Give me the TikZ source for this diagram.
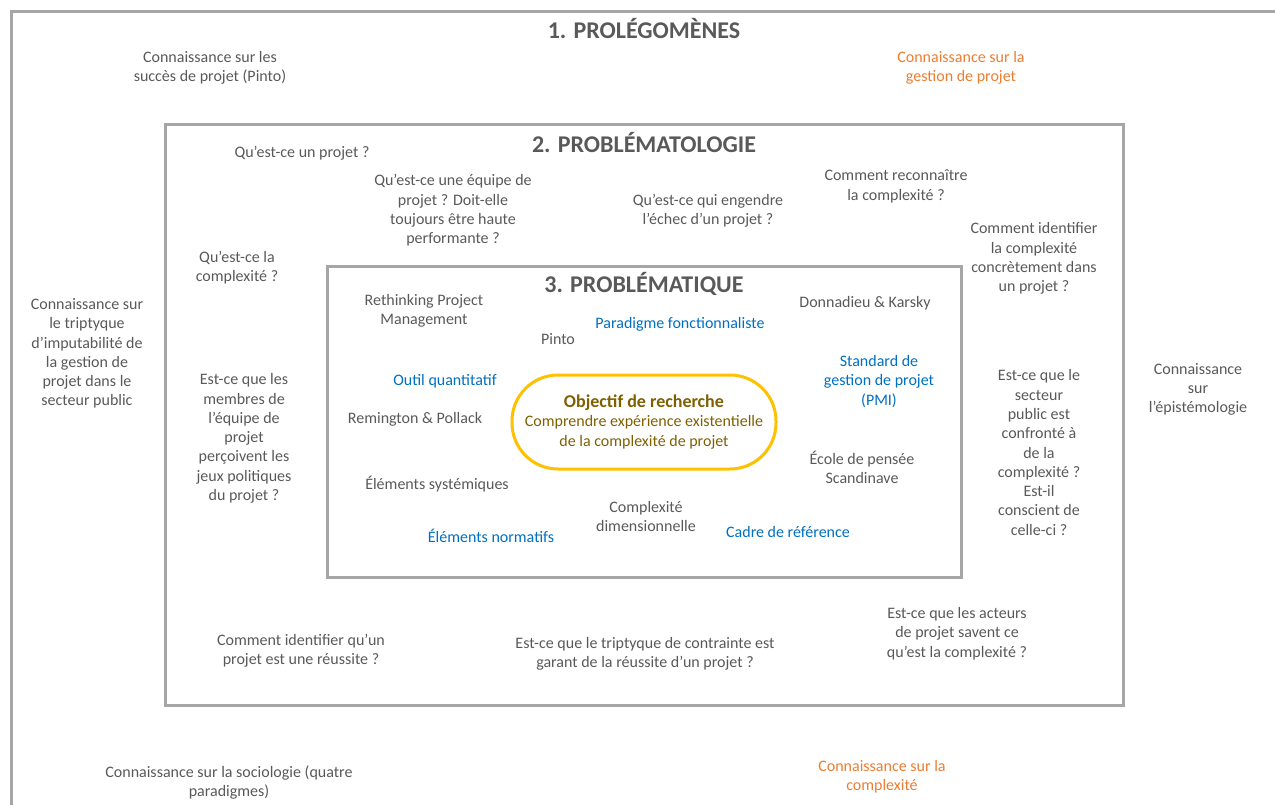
\documentclass[tikz,border=0pt]{standalone}
\usepackage{fontspec}
\setmainfont{Carlito}
\definecolor{txt}{HTML}{595959}
\definecolor{frame}{HTML}{A6A6A6}
\definecolor{bluetxt}{HTML}{0070C0}
\definecolor{orangetxt}{HTML}{ED7D31}
\definecolor{goldline}{HTML}{FFC000}
\definecolor{goldtxt}{HTML}{7F6000}
\tikzset{
  lbl/.style={align=center, text=txt, font=\fontsize{16}{19.3}\selectfont, inner sep=0pt, yshift=-1.5pt},
  blue/.style={lbl, text=bluetxt},
  orange/.style={lbl, text=orangetxt},
  ttl/.style={align=center, text=txt, font=\fontsize{24}{27}\selectfont\bfseries, inner sep=0pt},
  frm/.style={draw=frame, line width=3pt},
}
\begin{document}
\begin{tikzpicture}[x=1pt, y=-1pt]
\useasboundingbox (0,0) rectangle (1275,804);
\clip (0,0) rectangle (1275,804);
% nested frames
\draw[frm] (11,11) rectangle (1300,830);
\draw[frm] (165,124) rectangle (1123,705);
\draw[frm] (327,266) rectangle (961,577);

% level 1
\node[ttl] (t1) at (644,28) {1. PROLÉGOMÈNES};
\node[lbl] (k1) at (210,66) {Connaissance sur les\\succès de projet (Pinto)};
\node[orange] (k2) at (961,66) {Connaissance sur la\\gestion de projet};
\node[lbl] (k3) at (87,352) {Connaissance sur\\le triptyque\\d’imputabilité de\\la gestion de\\projet dans le\\secteur public};
\node[lbl] (k4) at (1198,388) {Connaissance\\sur\\l’épistémologie};
\node[lbl] (k5) at (229,781) {Connaissance sur la sociologie (quatre\\paradigmes)};
\node[orange] (k6) at (882,775) {Connaissance sur la\\complexité};

% level 2
\node[ttl] (t2) at (644,142) {2. PROBLÉMATOLOGIE};
\node[lbl] (q1) at (302,152) {Qu’est-ce un projet ?};
\node[lbl] (q2) at (453,209) {Qu’est-ce une équipe de\\projet ? Doit-elle\\toujours être haute\\performante ?};
\node[lbl] (q3) at (708,209) {Qu’est-ce qui engendre\\l’échec d’un projet ?};
\node[lbl] (q4) at (896,185) {Comment reconnaître\\la complexité ?};
\node[lbl] (q5) at (1034,257) {Comment identifier\\la complexité\\concrètement dans\\un projet ?};
\node[lbl] (q6) at (237,266) {Qu’est-ce la\\complexité ?};
\node[lbl] (q7) at (244,437) {Est-ce que les\\membres de\\l’équipe de\\projet\\perçoivent les\\jeux politiques\\du projet ?};
\node[lbl] (q8) at (1039,451) {Est-ce que le\\secteur\\public est\\confronté à\\de la\\complexité ?\\Est-il\\conscient de\\celle-ci ?};
\node[lbl] (q9) at (301,649) {Comment identifier qu’un\\projet est une réussite ?};
\node[lbl] (q10) at (645,652) {Est-ce que le triptyque de contrainte est\\garant de la réussite d’un projet ?};
\node[lbl] (q11) at (957,632) {Est-ce que les acteurs\\de projet savent ce\\qu’est la complexité ?};

% level 3
\node[ttl] (t3) at (644,284) {3. PROBLÉMATIQUE};
\node[lbl] (p1) at (424,309) {Rethinking Project\\Management};
\node[lbl] (p2) at (558,338) {Pinto};
\node[blue] (p3) at (680,323) {Paradigme fonctionnaliste};
\node[lbl] (p4) at (865,302) {Donnadieu \& Karsky};
\node[blue] (p5) at (879,380) {Standard de\\gestion de projet\\(PMI)};
\node[blue] (p6) at (445,380) {Outil quantitatif};
\node[lbl] (p7) at (415,418) {Remington \& Pollack};
\node[lbl] (p8) at (862,466) {École de pensée\\Scandinave};
\node[lbl] (p9) at (437,483) {Éléments systémiques};
\node[lbl] (p10) at (646,515) {Complexité\\dimensionnelle};
\node[blue] (p11) at (491,534) {Éléments normatifs};
\node[blue] (p12) at (788,530) {Cadre de référence};

% research objective
\node[draw=goldline, line width=3pt, rounded corners=46pt, minimum width=264pt, minimum height=94pt,
      align=center, text=goldtxt, font=\fontsize{16}{19.5}\selectfont, inner sep=0pt] (obj) at (644,422)
  {{\fontsize{18}{20}\selectfont\bfseries Objectif de recherche}\\Comprendre expérience existentielle\\de la complexité de projet};
\end{tikzpicture}
\end{document}
